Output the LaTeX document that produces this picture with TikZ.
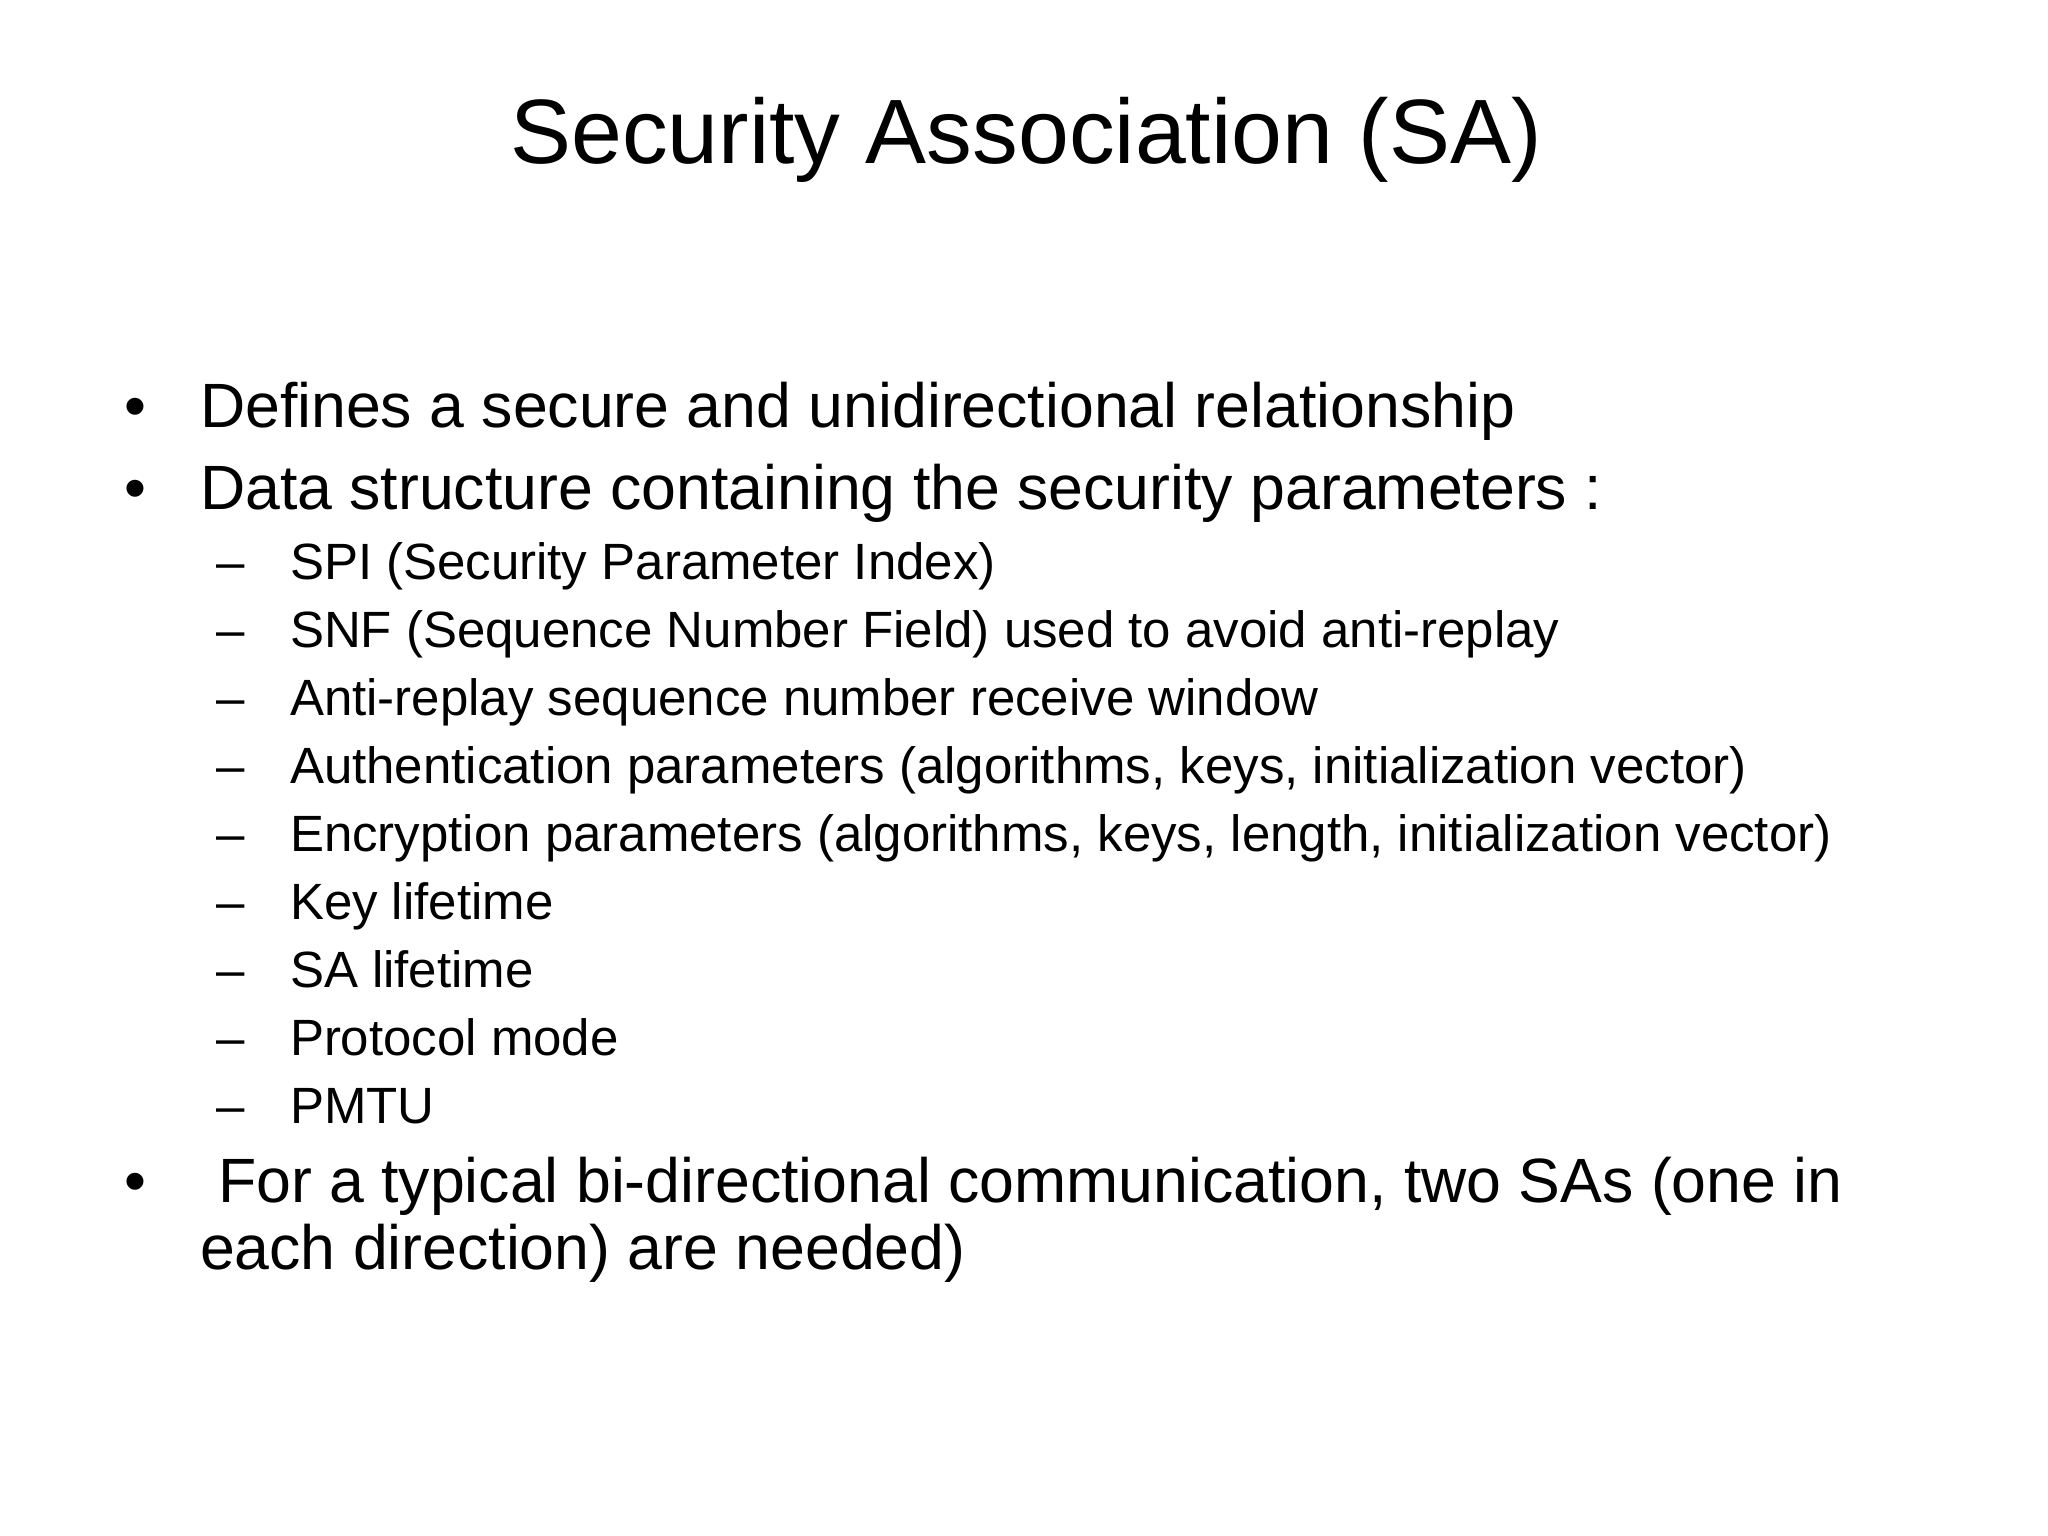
\documentclass[tikz,border=0pt]{standalone}
\usepackage{fontspec}
\setmainfont{Liberation Sans}
\begin{document}
\begin{tikzpicture}[x=0.01cm,y=-0.01cm,
  every node/.style={inner sep=0pt,outer sep=0pt},
  ttl/.style={anchor=base,font=\fontsize{26}{30}\selectfont},
  lvlone/.style={anchor=base west,font=\fontsize{17.8}{22}\selectfont},
  lvltwo/.style={anchor=base west,font=\fontsize{14.5}{18}\selectfont}]
\useasboundingbox[fill=white] (0,0) rectangle (2048,1536);
\node[ttl] (title) at (1026,163) {Security Association (SA)};
\node[lvlone] (b1) at (124,427) {•};
\node[lvlone] (t1) at (200,427) {Defines a secure and unidirectional relationship};
\node[lvlone] (b2) at (124,509) {•};
\node[lvlone] (t2) at (200,509) {Data structure containing the security parameters :};
\foreach \i/\t in {0/{SPI (Security Parameter Index)},
  1/{SNF (Sequence Number Field) used to avoid anti-replay},
  2/{Anti-replay sequence number receive window},
  3/{Authentication parameters (algorithms, keys, initialization vector)},
  4/{Encryption parameters (algorithms, keys, length, initialization vector)},
  5/{Key lifetime},6/{SA lifetime},7/{Protocol mode},8/{PMTU}}{
  \node[lvltwo] (d\i) at (216,{579+68*\i}) {–};
  \node[lvltwo] (s\i) at (290,{579+68*\i}) {\t};
}
\node[lvlone] (b3) at (124,1202) {•};
\node[lvlone] (t3) at (218,1202) {For a typical bi-directional communication, two SAs (one in};
\node[lvlone] (t3b) at (200,1269) {each direction) are needed)};
\end{tikzpicture}
\end{document}
